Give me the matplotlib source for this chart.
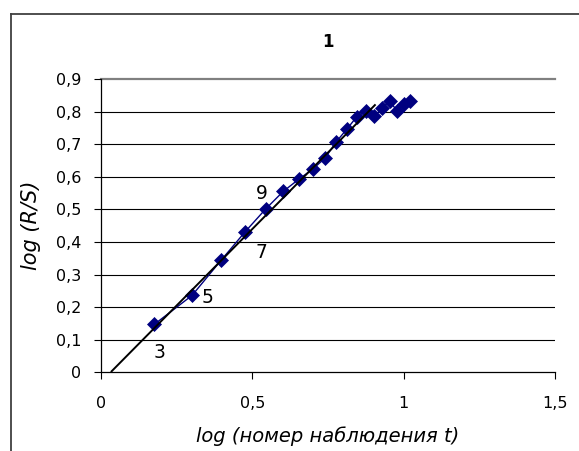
import matplotlib
matplotlib.use('Agg')
import matplotlib.pyplot as plt
from matplotlib.lines import Line2D
from matplotlib.ticker import FuncFormatter

plt.rcParams['font.family'] = ['DejaVu Sans']

# точки log(R/S) от log(номер наблюдения)
log_t = [0.176, 0.301, 0.398, 0.477, 0.544, 0.602, 0.653, 0.699, 0.740, 0.778,
         0.813, 0.845, 0.875, 0.903, 0.929, 0.954, 0.978, 1.000, 1.021]
log_rs = [0.147, 0.236, 0.345, 0.432, 0.501, 0.555, 0.592, 0.623, 0.657, 0.708,
          0.747, 0.784, 0.802, 0.786, 0.810, 0.833, 0.802, 0.823, 0.833]

# линия тренда
fit_x = [0.035, 0.905]
fit_y = [0.003, 0.820]

# подписи точек
point_labels = ['3', '5', '7', '9']
label_x = [0.195, 0.351, 0.530, 0.530]
label_y = [0.062, 0.231, 0.369, 0.550]

fig = plt.figure(figsize=(5.79, 4.51), dpi=100)
ax = fig.add_axes([0.1744, 0.1745, 0.7841, 0.6503])

ax.plot(log_t, log_rs, color='#000080', lw=1.0, marker='D', ms=7.4,
        mec='#000080', mfc='#000080', mew=0.5, zorder=3)
ax.plot(fit_x, fit_y, color='black', lw=1.4, zorder=4)

for s, x, y in zip(point_labels, label_x, label_y):
    ax.text(x, y, s, fontsize=13.5, ha='center', va='center', zorder=5)

ax.set_xlim(0, 1.5)
ax.set_ylim(0, 0.9)
ax.set_xticks([0, 0.5, 1, 1.5])
ax.set_yticks([i / 10 for i in range(10)])
fmt = FuncFormatter(lambda v, p: ('%g' % round(v, 2)).replace('.', ','))
ax.xaxis.set_major_formatter(fmt)
ax.yaxis.set_major_formatter(fmt)
ax.tick_params(labelsize=11.5, length=5, width=0.8, color='black')
ax.tick_params(axis='x', pad=12)
ax.tick_params(axis='y', pad=9)

for y in [i / 10 for i in range(1, 9)]:
    ax.axhline(y, color='black', lw=0.8, zorder=1)
ax.axhline(0.9, color='#808080', lw=1.6, zorder=1, clip_on=False)

ax.spines['top'].set_visible(False)
ax.spines['right'].set_visible(False)
ax.spines['left'].set_linewidth(0.9)
ax.spines['bottom'].set_linewidth(0.9)

ax.set_xlabel('log (номер наблюдения t)', fontsize=14, style='italic', labelpad=11)
ax.set_ylabel('log (R/S)', fontsize=15, style='italic', labelpad=11)
ax.set_title('1', fontsize=12, fontweight='bold', pad=23)

# рамка области диаграммы
fig.add_artist(Line2D([11 / 579, 11 / 579], [0, 1 - 14 / 451], color='#404040', lw=1.3))
fig.add_artist(Line2D([11 / 579, 1], [1 - 14 / 451, 1 - 14 / 451], color='#404040', lw=1.3))

fig.savefig('out.png', dpi=100)
